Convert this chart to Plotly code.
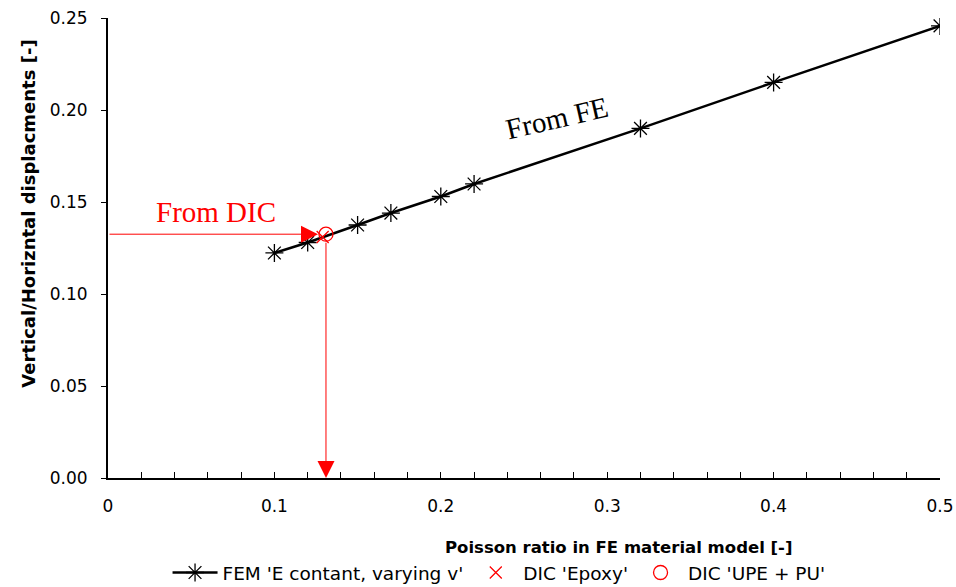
import plotly.graph_objects as go

# FE results: Poisson ratio vs displacement ratio
nu_fe = [0.10, 0.12, 0.15, 0.17, 0.20, 0.22, 0.32, 0.40, 0.50]
disp_fe = [0.1223, 0.1280, 0.1375, 0.1440, 0.1530, 0.1598, 0.1900, 0.2150, 0.2457]

# DIC measurements (displacement ratio mapped to Poisson ratio)
nu_epoxy = [0.129]
disp_epoxy = [0.131]
nu_upe = [0.131]
disp_upe = [0.1325]

x_ticks = [0, 0.1, 0.2, 0.3, 0.4, 0.5]
x_ticktext = ["0", "0.1", "0.2", "0.3", "0.4", "0.5"]
y_ticks = [0, 0.05, 0.10, 0.15, 0.20, 0.25]
y_ticktext = ["0.00", "0.05", "0.10", "0.15", "0.20", "0.25"]

sans = "'DejaVu Sans', sans-serif"
serif = "'Liberation Serif', 'Times New Roman', serif"

fig = go.Figure()
fig.add_trace(go.Scatter(
    x=nu_fe, y=disp_fe, mode="lines+markers",
    name="FEM 'E contant, varying v'",
    line=dict(color="black", width=2.5),
    marker=dict(symbol="asterisk-open", size=15, color="black",
                line=dict(color="black", width=1.3)),
))
fig.add_trace(go.Scatter(
    x=nu_epoxy, y=disp_epoxy, mode="markers", name="DIC 'Epoxy'",
    marker=dict(symbol="x-thin-open", size=12, color="red",
                line=dict(color="red", width=1.3)),
))
fig.add_trace(go.Scatter(
    x=nu_upe, y=disp_upe, mode="markers", name="DIC 'UPE + PU'",
    marker=dict(symbol="circle-open", size=14, color="red",
                line=dict(color="red", width=1.3)),
))

# Arrows: from the measured displacement across to the FE curve, then down to the Poisson ratio
fig.add_annotation(x=nu_upe[0], y=disp_upe[0], ax=0, ay=disp_upe[0],
                   xref="x", yref="y", axref="x", ayref="y",
                   showarrow=True, arrowhead=2, arrowsize=3.4, arrowwidth=1,
                   arrowcolor="red", standoff=8, text="")
fig.add_annotation(x=nu_upe[0], y=0, ax=nu_upe[0], ay=disp_upe[0],
                   xref="x", yref="y", axref="x", ayref="y",
                   showarrow=True, arrowhead=2, arrowsize=3.4, arrowwidth=1,
                   arrowcolor="red", standoff=0, startstandoff=7, text="")

fig.add_annotation(x=0.065, y=0.1446, xref="x", yref="y", text="From DIC",
                   showarrow=False, font=dict(family=serif, size=29, color="red"))
fig.add_annotation(x=0.27, y=0.1957, xref="x", yref="y", text="From FE",
                   showarrow=False, textangle=-13,
                   font=dict(family=serif, size=29, color="black"))

# Axis titles
fig.add_annotation(x=0.613, y=-0.15, xref="paper", yref="paper",
                   text="<b>Poisson ratio in FE material model [-]</b>",
                   showarrow=False, xanchor="center", yanchor="middle",
                   font=dict(family=sans, size=16.5, color="black"))
fig.add_annotation(x=-0.096, y=0.575, xref="paper", yref="paper",
                   text="<b>Vertical/Horizntal displacments [-]</b>",
                   showarrow=False, xanchor="center", yanchor="middle", textangle=-90,
                   font=dict(family=sans, size=18, color="black"))

fig.update_layout(
    width=956, height=587,
    margin=dict(l=108, r=16, t=18, b=109, autoexpand=False),
    paper_bgcolor="white", plot_bgcolor="white",
    font=dict(family=sans, color="black"),
    legend=dict(orientation="h", x=0.47, y=-0.2065, xanchor="center", yanchor="middle",
                font=dict(family=sans, size=18.5), itemwidth=45, tracegroupgap=0),
    xaxis=dict(
        range=[0, 0.5], tickvals=x_ticks, ticktext=x_ticktext,
        showgrid=False, zeroline=False, automargin=False,
        showline=True, linecolor="black", linewidth=2,
        ticks="inside", ticklen=6, tickcolor="black", tickwidth=1.3,
        minor=dict(dtick=0.02, tick0=0, ticks="inside", ticklen=6,
                   tickcolor="black", tickwidth=1.3),
        tickfont=dict(family=sans, size=17),
        ticklabelstandoff=12,
    ),
    yaxis=dict(
        range=[0, 0.25], tickvals=y_ticks, ticktext=y_ticktext,
        showgrid=False, zeroline=False, automargin=False,
        showline=True, linecolor="black", linewidth=2,
        ticks="outside", ticklen=5, tickcolor="black", tickwidth=1.3,
        tickfont=dict(family=sans, size=17),
        ticklabelstandoff=10,
    ),
)

fig.write_html("out.html")
